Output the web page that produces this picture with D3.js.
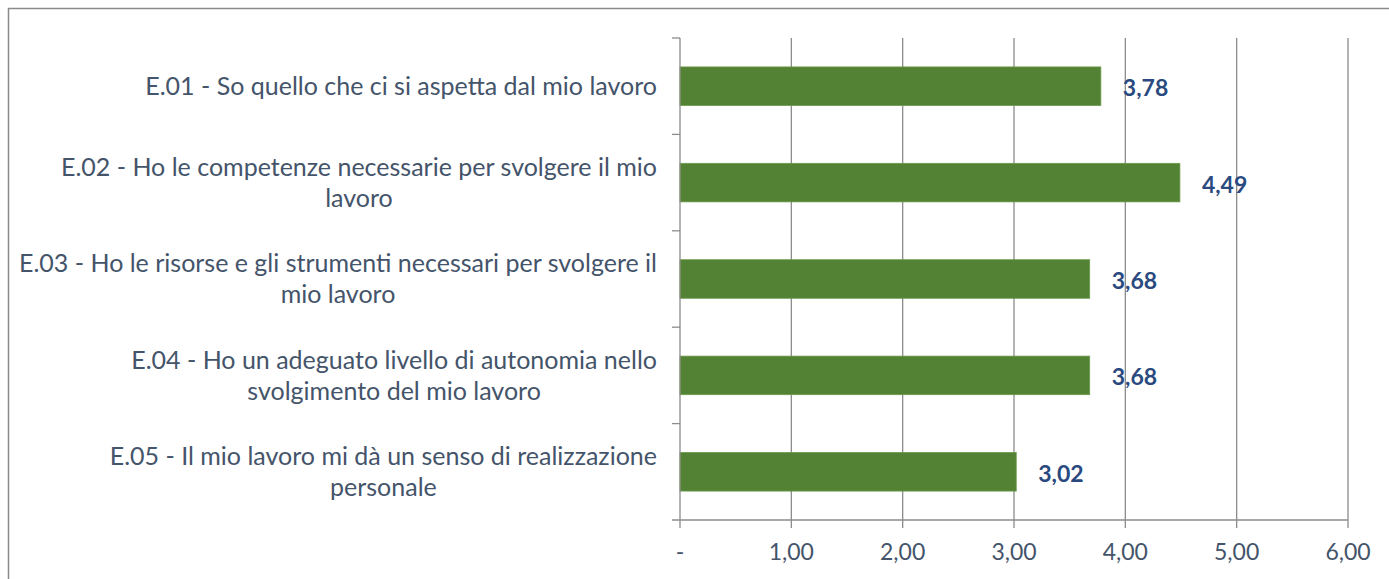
<!DOCTYPE html>
<meta charset="utf-8">
<title>Bar chart</title>
<style>
body {
  margin: 0;
  background: #fff;
  font-family: Lato, "Noto Sans", sans-serif;
}

.cat-label {
  font-size: 25px;
  fill: #44546a;
}

.tick-label {
  font-size: 23px;
  fill: #44546a;
  text-anchor: middle;
}

.value-label {
  font-size: 23px;
  font-weight: bold;
  fill: #2a4a7f;
}

.grid line {
  stroke: #8c8c8c;
  stroke-width: 1.3;
}

</style>
<body>
<svg width="1389" height="579"></svg>

<script src="https://d3js.org/d3.v7.min.js"></script>

<script>
// labels are split in lines like in the original chart
var categories = [
  ["E.01 - So quello che ci si aspetta dal mio lavoro"],
  ["E.02 - Ho le competenze necessarie per svolgere il mio", "lavoro"],
  ["E.03 - Ho le risorse e gli strumenti necessari per svolgere il", "mio lavoro"],
  ["E.04 - Ho un adeguato livello di autonomia nello", "svolgimento del mio lavoro"],
  ["E.05 - Il mio lavoro mi dà un senso di realizzazione", "personale"]
];

var values = [3.78, 4.49, 3.68, 3.68, 3.02];

var tickValues = [0, 1, 2, 3, 4, 5, 6];
var tickLabels = ["-", "1,00", "2,00", "3,00", "4,00", "5,00", "6,00"];

var svg = d3.select("svg");

// outer frame of the chart object (right and bottom are cut off)
svg.append("rect")
    .attr("x", 8.5)
    .attr("y", 8.5)
    .attr("width", 1400)
    .attr("height", 600)
    .style("fill", "none")
    .style("stroke", "#8a8a8a")
    .style("stroke-width", 1.5);

var plotLeft = 680, plotRight = 1348, plotTop = 38, plotBottom = 520;

var x = d3.scaleLinear()
    .domain([0, 6])
    .range([plotLeft, plotRight]);

var y = d3.scaleBand()
    .domain(d3.range(categories.length))
    .range([plotTop, plotBottom])
    .paddingInner(0.6)
    .paddingOuter(0.3);

// full band positions for the category tick marks
var yBand = d3.scaleBand()
    .domain(d3.range(categories.length))
    .range([plotTop, plotBottom]);

// vertical gridlines
var grid = svg.append("g").attr("class", "grid");
grid.selectAll("line")
  .data(tickValues.slice(1))
  .enter().append("line")
    .attr("x1", function(d) { return x(d); })
    .attr("x2", function(d) { return x(d); })
    .attr("y1", plotTop)
    .attr("y2", plotBottom + 8);

// bars
svg.append("g")
  .selectAll("rect")
  .data(values)
  .enter().append("rect")
    .attr("x", x(0))
    .attr("y", function(d, i) { return y(i); })
    .attr("width", function(d) { return x(d) - x(0); })
    .attr("height", y.bandwidth())
    .style("fill", "#548235")
    .style("stroke", "#6a9a4a")
    .style("stroke-width", 0.8);

// axes lines
var axisG = svg.append("g").attr("class", "grid");
axisG.append("line")
    .attr("x1", plotLeft).attr("x2", plotLeft)
    .attr("y1", plotTop).attr("y2", plotBottom + 8);
axisG.append("line")
    .attr("x1", plotLeft - 8).attr("x2", plotRight)
    .attr("y1", plotBottom).attr("y2", plotBottom);
axisG.selectAll(".ytick")
  .data(d3.range(categories.length))
  .enter().append("line")
    .attr("class", "ytick")
    .attr("x1", plotLeft - 8).attr("x2", plotLeft)
    .attr("y1", function(i) { return yBand(i); })
    .attr("y2", function(i) { return yBand(i); });

// x tick labels
svg.append("g")
  .selectAll("text")
  .data(tickValues)
  .enter().append("text")
    .attr("class", "tick-label")
    .attr("x", function(d) { return x(d); })
    .attr("y", plotBottom + 32)
    .attr("dy", "0.35em")
    .text(function(d, i) { return tickLabels[i]; });

// category labels: block right-aligned, lines centred in block
var labelRight = 657, lineH = 31;
var catG = svg.append("g");
categories.forEach(function(lines, i) {
  var cy = yBand(i) + yBand.bandwidth() / 2;
  var texts = lines.map(function(l, j) {
    return catG.append("text")
        .attr("class", "cat-label")
        .attr("dy", "0.35em")
        .attr("y", cy + (j - (lines.length - 1) / 2) * lineH)
        .attr("text-anchor", "middle")
        .text(l);
  });
  var w = d3.max(texts, function(t) { return t.node().getComputedTextLength(); });
  texts.forEach(function(t) { t.attr("x", labelRight - w / 2); });
});

// value labels
svg.append("g")
  .selectAll("text")
  .data(values)
  .enter().append("text")
    .attr("class", "value-label")
    .attr("x", function(d) { return x(d) + 22; })
    .attr("y", function(d, i) { return y(i) + y.bandwidth() / 2 + 2; })
    .attr("dy", "0.35em")
    .text(function(d) { return d3.format(".2f")(d).replace(".", ","); });
</script>
</body>
